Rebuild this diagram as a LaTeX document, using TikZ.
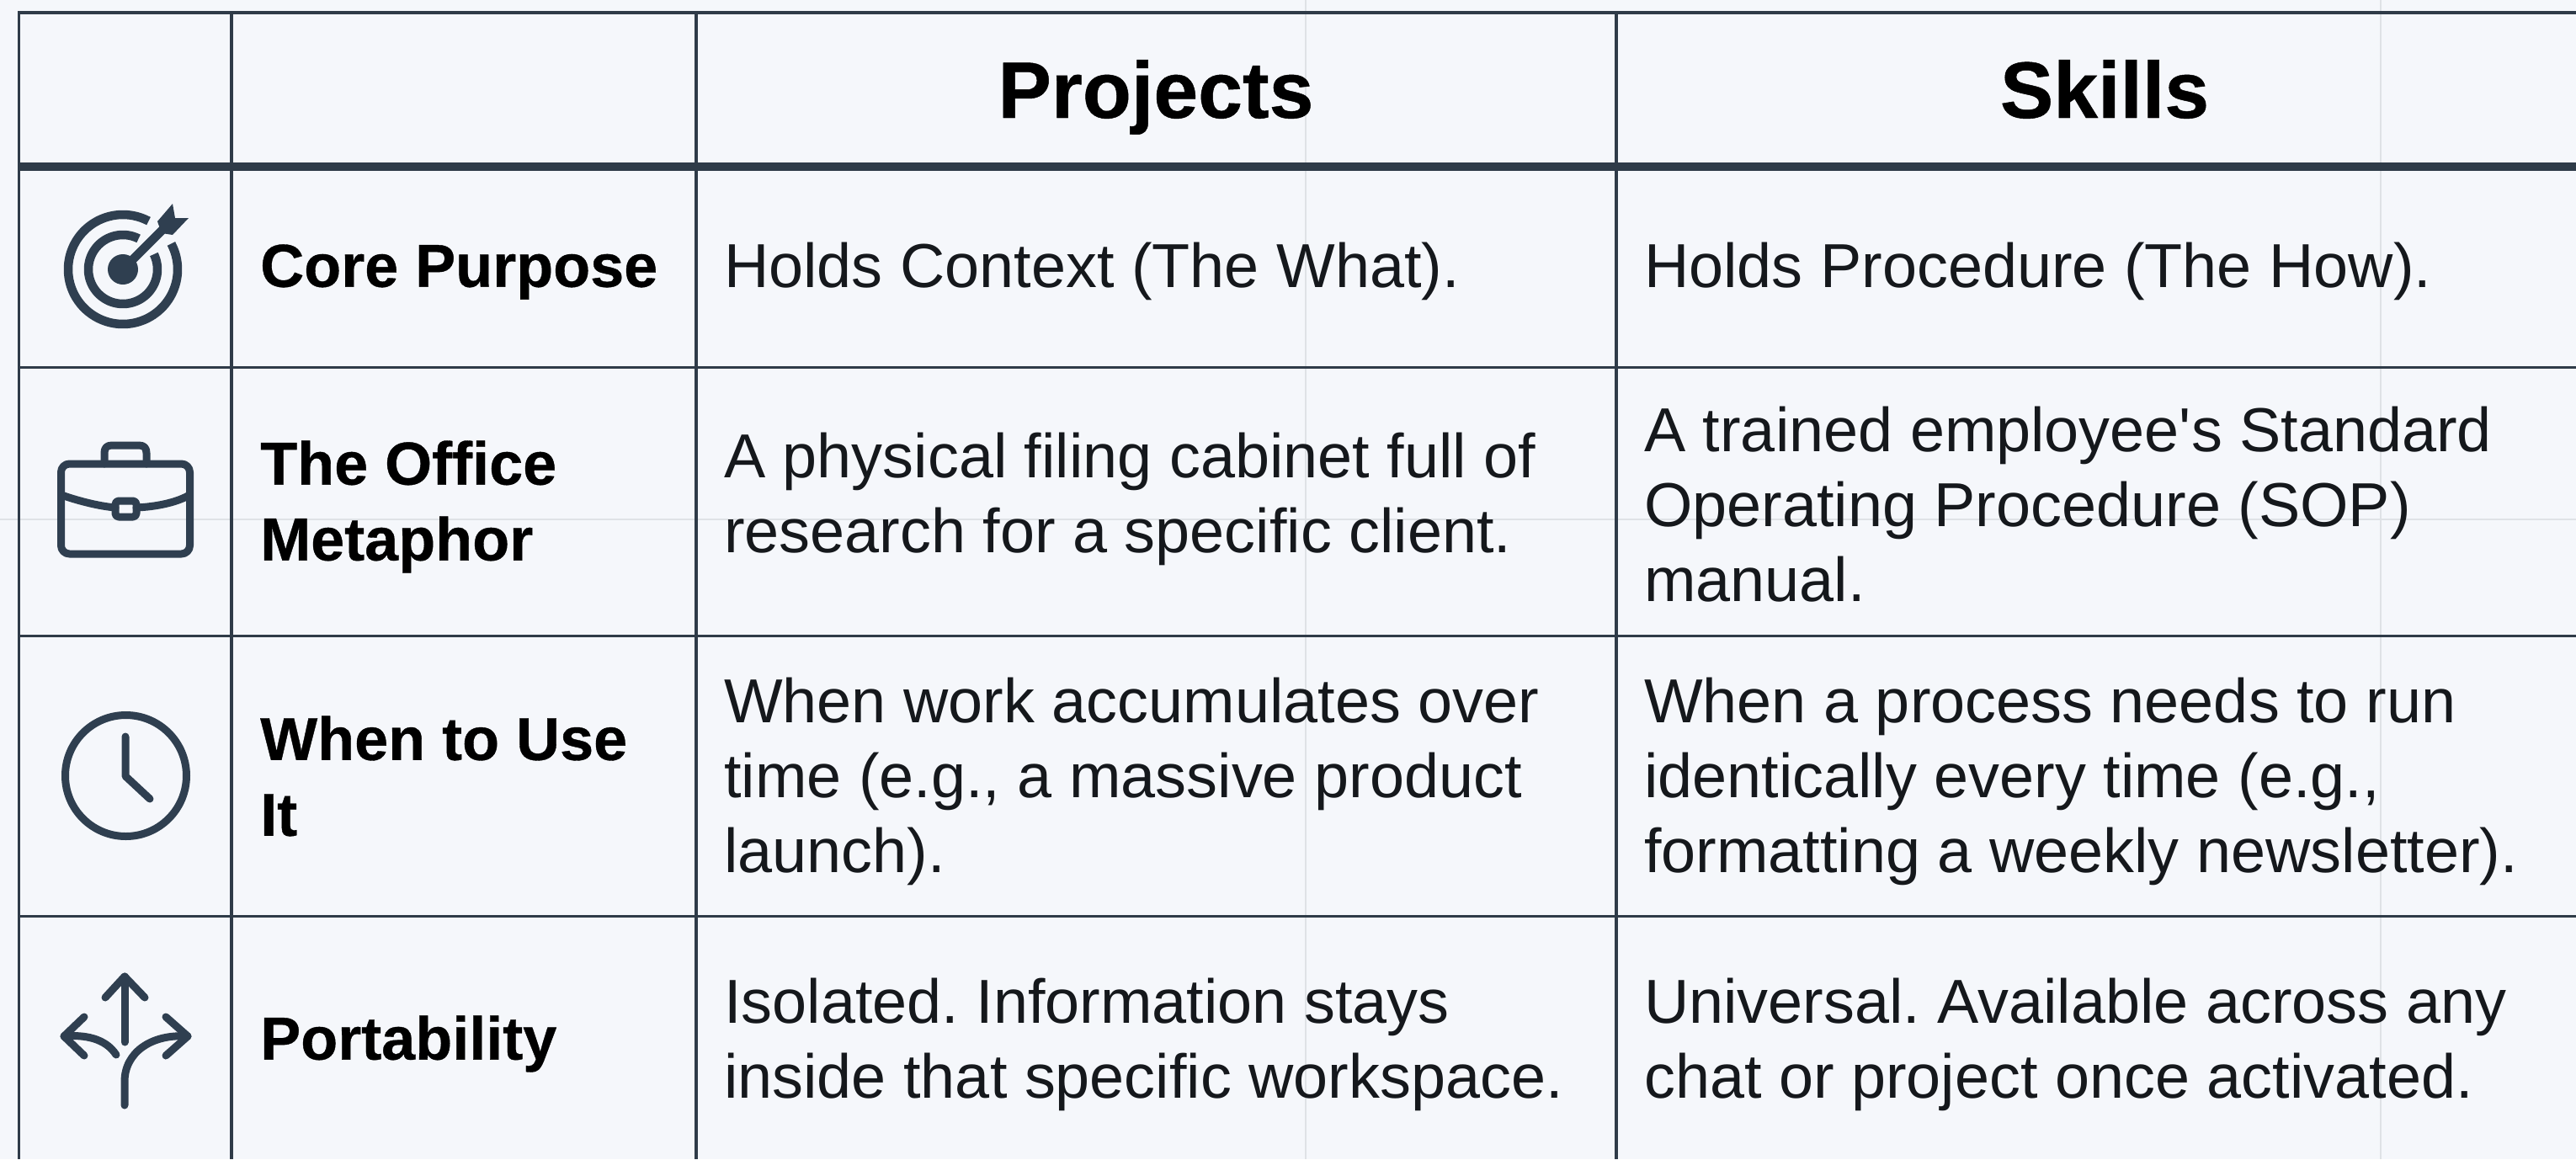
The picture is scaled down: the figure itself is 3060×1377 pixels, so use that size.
\documentclass[tikz,border=0pt]{standalone}
\usepackage{fontspec}
\setmainfont{Liberation Sans}[Ligatures=TeXOff,BoldFeatures={FakeBold=0.5}]
\definecolor{bgc}{HTML}{F5F7FB}
\definecolor{linec}{HTML}{2F3B48}
\definecolor{iconc}{HTML}{2F3F50}
\definecolor{faint}{HTML}{DFE2E6}
\definecolor{txtc}{HTML}{15181C}
\tikzset{
 x=1pt,y=-1pt,
 rowline/.style={draw=linec,line width=3pt},
 topline/.style={draw=linec,line width=4.5pt},
 colline/.style={draw=linec,line width=3.5pt},
 thickline/.style={draw=linec,line width=10pt},
 guide/.style={draw=faint,line width=1.5pt},
 icon/.style={draw=iconc,line width=9pt,line cap=round,line join=round},
 ringstroke/.style={draw=iconc,line width=10.5pt,line cap=butt},
 cell/.style={anchor=west,align=left,inner sep=0pt,font=\fontsize{73.8}{89}\selectfont\frenchspacing,text=txtc},
 rowhead/.style={anchor=west,align=left,inner sep=0pt,font=\fontsize{72}{90}\selectfont\bfseries,text=black},
 colhead/.style={anchor=base,inner sep=0pt,font=\fontsize{95}{100}\selectfont\bfseries,text=black},
}
\begin{document}
\begin{tikzpicture}
\useasboundingbox (0,0) rectangle (3060,1377);
\fill[bgc] (0,0) rectangle (3060,1377);
% faint guides
\draw[guide] (2828,0) -- (2828,1377);
\draw[guide] (1551,0) -- (1551,1377);
\draw[guide] (0,617) -- (3060,617);
% grid coordinates
\coordinate (tl) at (22,15); \coordinate (tr) at (3060,15);
\coordinate (hl) at (22,198); \coordinate (hr) at (3060,198);
\coordinate (r1l) at (22,436); \coordinate (r1r) at (3060,436);
\coordinate (r2l) at (22,755); \coordinate (r2r) at (3060,755);
\coordinate (r3l) at (22,1088); \coordinate (r3r) at (3060,1088);
\coordinate (c0t) at (22.5,13); \coordinate (c0b) at (22.5,1377);
\coordinate (c1t) at (275,15); \coordinate (c1b) at (275,1377);
\coordinate (c2t) at (827,15); \coordinate (c2b) at (827,1377);
\coordinate (c3t) at (1920,15); \coordinate (c3b) at (1920,1377);
\draw[topline] (tl) -- (tr);
\draw[thickline] (hl) -- (hr);
\draw[rowline] (r1l) -- (r1r);
\draw[rowline] (r2l) -- (r2r);
\draw[rowline] (r3l) -- (r3r);
\draw[colline] (c0t) -- (c0b);
\draw[colline] (c1t) -- (c1b);
\draw[colline] (c2t) -- (c2b);
\draw[colline] (c3t) -- (c3b);
% headers
\node[colhead] (hp) at (1373,140) {Projects};
\node[colhead] (hs) at (2500,140) {Skills};
% row heads
\node[rowhead] (rh1) at (309,323) {Core Purpose};
\node[rowhead] (rh2) at (309,602) {The Office\\Metaphor};
\node[rowhead] (rh3) at (309,922) {When to Use\\It};
\node[rowhead] (rh4) at (309,1240) {Portability};
% cells
\node[cell] (p1) at (860,322) {Holds Context (The What).};
\node[cell] (s1) at (1953,322) {Holds Procedure (The How).};
\node[cell] (p2) at (860,593) {A physical filing cabinet full of\\research for a specific client.};
\node[cell] (s2) at (1953,599) {A trained employee's Standard\\Operating Procedure (SOP)\\manual.};
\node[cell] (p3) at (860,928) {When work accumulates over\\time (e.g., a massive product\\launch).};
\node[cell] (s3) at (1953,928) {When a process needs to run\\identically every time (e.g.,\\formatting a weekly newsletter).};
\node[cell] (p4) at (860,1241) {Isolated. Information stays\\inside that specific workspace.};
\node[cell] (s4) at (1953,1241) {Universal. Available across any\\chat or project once activated.};
% target icon
\draw[ringstroke] plot[smooth,domain=62:388,samples=80] ({146+65*cos(\x)},{320-65*sin(\x)});
\draw[ringstroke] plot[smooth,domain=63:386,samples=80] ({146+41*cos(\x)},{320-41*sin(\x)});
\fill[iconc] (146,320) circle (18);
\draw[ringstroke] (146,320) -- (198,268);
\fill[iconc] (187,263) -- (205,242) -- (208,259) -- (224,259) -- (205,279) -- (192,277) -- cycle;
% briefcase icon
\draw[icon,rounded corners=10pt] (72.5,551) rectangle (225.5,658);
\draw[icon] (124,551) -- (124,538) .. controls (124,532) and (127,529) .. (133,529) -- (165,529) .. controls (171,529) and (174,532) .. (174,538) -- (174,551);
\draw[icon,rounded corners=4pt] (137,595) rectangle (162,614);
\draw[icon] (73,588) .. controls (90,594) and (115,601) .. (137,603);
\draw[icon] (162,603) .. controls (185,602) and (210,597) .. (225,588);
% clock icon
\draw[icon] (149.5,921.5) circle (72);
\draw[icon] (149,875) -- (149,922) -- (178,949);
% arrows icon
\draw[icon] (148,1238) -- (148,1160);
\draw[icon] (125,1185) -- (148,1160) -- (172,1185);
\draw[icon] (100,1208) -- (76,1231) -- (100,1254);
\draw[icon] (197,1208) -- (223,1231) -- (197,1254);
\draw[icon] (76,1231) .. controls (100,1229) and (125,1233) .. (138,1253);
\draw[icon] (223,1231) .. controls (180,1228) and (148,1250) .. (148,1285) -- (148,1313);
\end{tikzpicture}
\end{document}
